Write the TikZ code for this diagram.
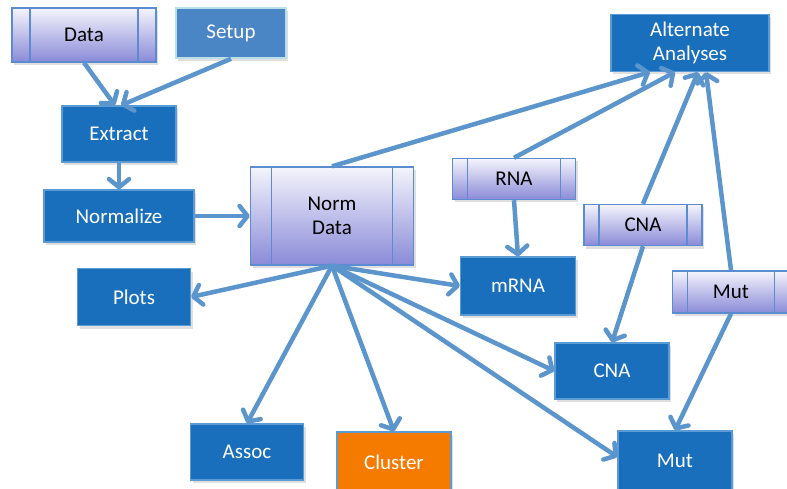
\documentclass[tikz,border=0pt]{standalone}
\usepackage{fontspec}
\setmainfont{Carlito}
\usetikzlibrary{arrows.meta,shadows}

\definecolor{boxblue}{HTML}{1A6FBD}
\definecolor{boxedge}{HTML}{5B9BD5}
\definecolor{setupblue}{HTML}{4A86C6}
\definecolor{setupedge}{HTML}{B9E0EA}
\definecolor{proctop}{HTML}{F4F4FC}
\definecolor{procbot}{HTML}{8A8AD8}
\definecolor{procedge}{HTML}{5B8BD0}
\definecolor{clusterorange}{HTML}{F57A00}
\definecolor{flow}{HTML}{5B95CC}

\tikzset{
  shade/.style={drop shadow={opacity=0.25,shadow xshift=2pt,shadow yshift=-3pt}},
  task/.style={rectangle, shade, fill=boxblue, draw=boxedge, line width=1.2pt,
    text=white, font=\fontsize{21}{24}\selectfont, align=center, inner sep=0pt},
  setupbox/.style={task, fill=setupblue, draw=setupedge, line width=1.6pt},
  clusterbox/.style={task, fill=clusterorange},
  proc/.style={rectangle, shade, top color=proctop, bottom color=procbot,
    draw=procedge, line width=1.4pt, text=black,
    font=\fontsize{21}{24}\selectfont, align=center, inner sep=0pt,
    path picture={
      \draw[procedge, line width=1.4pt]
        ([xshift=#1]path picture bounding box.north west) --
        ([xshift=#1]path picture bounding box.south west)
        ([xshift=-#1]path picture bounding box.north east) --
        ([xshift=-#1]path picture bounding box.south east);
    }},
  proc/.default=15pt,
  flowarrow/.style={draw=flow, line width=4.5pt,
    -{Straight Barb[length=8pt,width=20pt,round]}},
}

\begin{document}
\begin{tikzpicture}[x=1pt,y=-1pt]
  \useasboundingbox (0,0) rectangle (787,489);

  % top-left inputs
  \node[proc=18pt, minimum width=144pt, minimum height=54pt] (data) at (84,35) {Data};
  \node[setupbox, minimum width=110pt, minimum height=50pt] (setup) at (231,33) {Setup};

  % preprocessing chain
  \node[task, minimum width=114pt, minimum height=56pt] (extract) at (119,134) {Extract};
  \node[task, minimum width=150pt, minimum height=52pt] (normalize) at (119,216) {Normalize};
  \node[proc=21pt, minimum width=163pt, minimum height=98pt] (nd) at (332,216) {Norm\\Data};

  % outputs of normalized data
  \node[task, minimum width=113pt, minimum height=57pt] (plots) at (134,297) {Plots};
  \node[task, minimum width=115pt, minimum height=58pt] (mrna) at (518,286) {mRNA};
  \node[task, minimum width=114pt, minimum height=56pt] (cnad) at (612,371) {CNA};
  \node[task, minimum width=114pt, minimum height=60pt] (mutd) at (675,461) {Mut};
  \node[task, minimum width=113pt, minimum height=56pt] (assoc) at (247,452) {Assoc};
  \node[clusterbox, minimum width=114pt, minimum height=60pt] (cluster) at (394,462) {Cluster};

  % additional data sources
  \node[proc, minimum width=123pt, minimum height=41pt] (rna) at (514,179) {RNA};
  \node[proc, minimum width=118pt, minimum height=41pt] (cnap) at (643,225) {CNA};
  \node[proc, minimum width=117pt, minimum height=42pt] (mutp) at (731,292) {Mut};

  % alternate analyses
  \node[task, minimum width=158pt, minimum height=57pt] (ana) at (690,43) {Alternate\\Analyses};

  % connectors
  \draw[flowarrow] (data.south) -- ([xshift=-4pt]extract.north);
  \draw[flowarrow] (setup.south) -- ([xshift=2pt]extract.north);
  \draw[flowarrow] (extract.south) -- (normalize.north);
  \draw[flowarrow] (normalize.east) -- (nd.west);

  \draw[flowarrow] (nd.north) -- ([xshift=-40pt]ana.south);
  \draw[flowarrow] (rna.north) -- ([xshift=-15pt]ana.south);
  \draw[flowarrow] (cnap.north) -- ([xshift=8pt]ana.south);
  \draw[flowarrow] (mutp.north) -- ([xshift=16pt]ana.south);

  \draw[flowarrow] (rna.south) -- (mrna.north);
  \draw[flowarrow] (cnap.south) -- (cnad.north);
  \draw[flowarrow] (mutp.south) -- (mutd.north);

  \draw[flowarrow] (nd.south) -- (plots.east);
  \draw[flowarrow] (nd.south) -- (mrna.west);
  \draw[flowarrow] (nd.south) -- (cnad.west);
  \draw[flowarrow] (nd.south) -- ([yshift=4pt]mutd.west);
  \draw[flowarrow] (nd.south) -- (assoc.north);
  \draw[flowarrow] (nd.south) -- (cluster.north);
\end{tikzpicture}
\end{document}
